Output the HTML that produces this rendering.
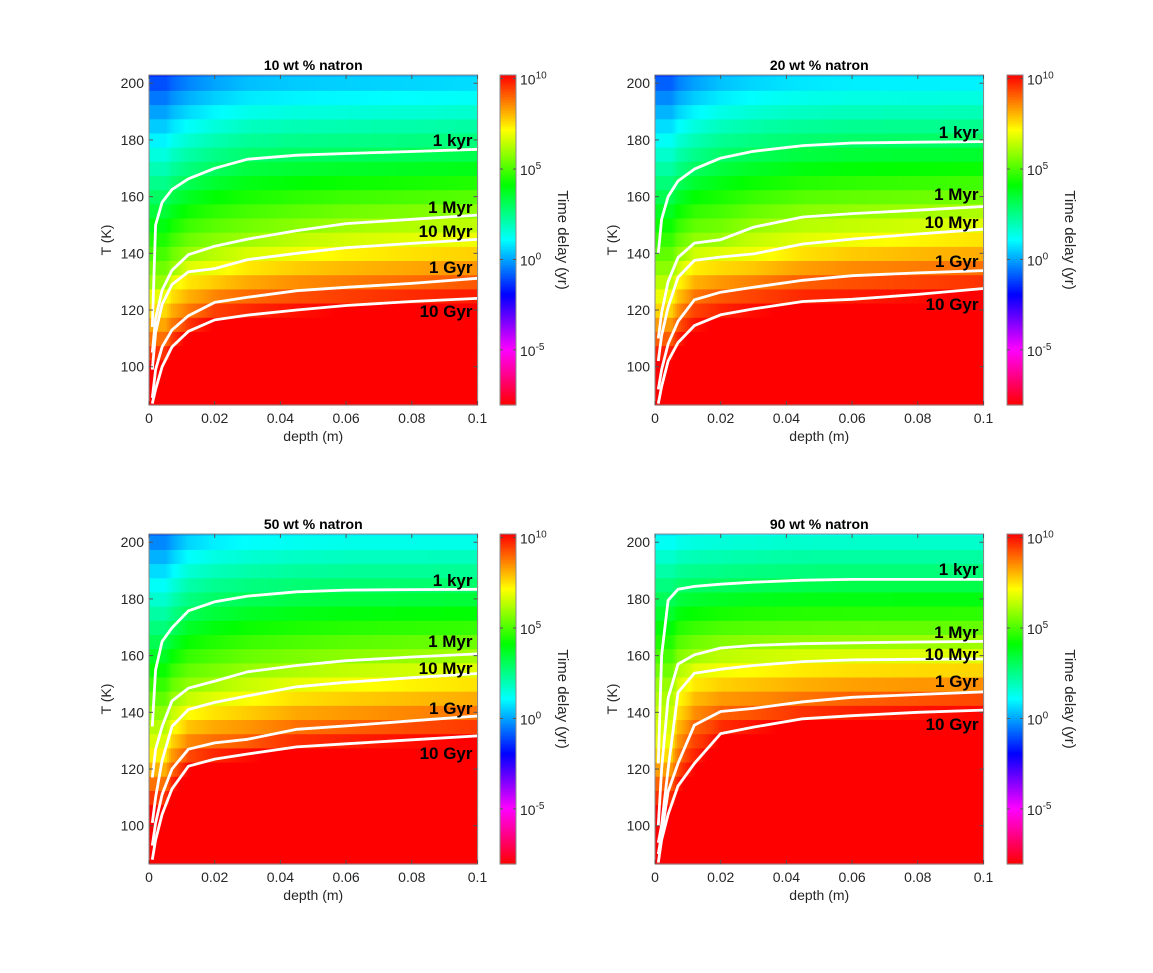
<!DOCTYPE html>
<html><head><meta charset="utf-8">
<style>
body{margin:0;background:#fff;}
svg{display:block;font-family:"Liberation Sans",Arial,sans-serif;}
</style></head>
<body>
<svg id="fig" width="1153" height="973" viewBox="0 0 1153 973" xmlns="http://www.w3.org/2000/svg"></svg>
<script>
// ---- data ----
const depths=[0.001,0.002,0.004,0.007,0.012,0.02,0.03,0.045,0.06,0.08,0.1];
const levelLogs=[3,6,7,9,10];
const levelNames=['1 kyr','1 Myr','10 Myr','1 Gyr','10 Gyr'];
const panelTitles=['10 wt % natron','20 wt % natron','50 wt % natron','90 wt % natron'];
const yTicks=[100,120,140,160,180,200];
const xTicks=[0,0.02,0.04,0.06,0.08,0.1];
const xTickLabels=['0','0.02','0.04','0.06','0.08','0.1'];
const cbTicks=[10,5,0,-5];
// contour temperatures (K) at each depth
const p10_kyr=[114,150,158,162.5,166.3,170,173.2,174.6,175.2,175.9,176.7];
const p10_Myr=[105,117,127,134,139.5,142.5,145,148,150.5,152,153.5];
const p10_10Myr=[99,112,122,129,133.5,134.6,137.8,140,142,143.5,144.9];
const p10_Gyr=[89,99,107,113,118,122.7,124.5,126.8,128,129.4,131.2];
const p10_10Gyr=[87,92,100,107,112.5,116.5,118.2,120,121.6,123,124.1];
const p20_kyr=[140,152,160,165.5,169.7,173.6,176,178,178.9,179.2,179.4];
const p20_Myr=[110,119,130,138.5,143.6,144.8,149.2,152.8,154,155.2,156.5];
const p20_10Myr=[102,111,121,131.5,137.5,138.7,139.8,143.3,145,146.8,148.5];
const p20_Gyr=[92,99,108,116,123.6,126.3,128,130.5,132.1,133.1,133.9];
const p20_10Gyr=[87,93,102,108.5,114.5,118.3,120.4,123,123.8,125.5,127.6];
const p50_kyr=[135,155,165,169.8,175.8,179,181,182.5,183.1,183.3,183.4];
const p50_Myr=[117,127,135,144,148.5,151,154.3,156.5,158.2,159.5,160.6];
const p50_10Myr=[101,110,123,135,141,143.5,145.8,149,150.6,152.2,153.7];
const p50_Gyr=[93,101,111,120,127,129.2,130.5,134,135.2,137,138.7];
const p50_10Gyr=[88,95,104,113,121,123.5,125.3,127.8,128.9,130.3,131.7];
const p90_kyr=[122,160,179.5,183.4,184.4,185.2,185.9,186.6,186.9,186.9,186.9];
const p90_Myr=[100,120,145,157,160.3,162.7,163.6,164.2,164.5,164.8,165];
const p90_10Myr=[94,100.2,120,147,153.8,155.2,156.5,157.9,158.5,158.7,158.8];
const p90_Gyr=[90,97,112,122,135.5,140.3,141.4,143.7,145.3,146.3,147.2];
const p90_10Gyr=[87,95,104,114,122,132.5,134.8,137.7,138.8,140,140.8];
const panelContours=[
 [p10_kyr,p10_Myr,p10_10Myr,p10_Gyr,p10_10Gyr],
 [p20_kyr,p20_Myr,p20_10Myr,p20_Gyr,p20_10Gyr],
 [p50_kyr,p50_Myr,p50_10Myr,p50_Gyr,p50_10Gyr],
 [p90_kyr,p90_Myr,p90_10Myr,p90_Gyr,p90_10Gyr]];
// label pixel positions (annotation layout)
const labelY=[[140,207,231,267,311],[132,194,222,261,304],[580,641,668,708,753],[569,632,654,681,724]];

// ---- layout ----
const layout=[{x:149,y:75,cx:500},{x:655,y:75,cx:1007},{x:149,y:534,cx:500},{x:655,y:534,cx:1007}];
const PW=328.5,PH=330,CBW=16;
const TMIN=86.5,TMAX=202.9,DMAX=0.1,CMIN=-8.05,CMAX=10.2;
const NS='http://www.w3.org/2000/svg';
const svg=document.getElementById('fig');
function mk(tag,attrs,parent){const e=document.createElementNS(NS,tag);for(const k in attrs)e.setAttribute(k,attrs[k]);(parent||svg).appendChild(e);return e;}
function hsv(h){h=((h%360)+360)%360;const x=1-Math.abs((h/60)%2-1);let r,g,b;
 if(h<60){r=1;g=x;b=0}else if(h<120){r=x;g=1;b=0}else if(h<180){r=0;g=1;b=x}else if(h<240){r=0;g=x;b=1}else if(h<300){r=x;g=0;b=1}else{r=1;g=0;b=x}
 return 'rgb('+Math.round(r*255)+','+Math.round(g*255)+','+Math.round(b*255)+')';}
function cmap(v){let t=(v-CMIN)/(CMAX-CMIN);t=Math.max(0,Math.min(1,t));return hsv((1-t)*360);}
function interpD(arr,d){if(d<=depths[0])return arr[0];for(let i=1;i<depths.length;i++){if(d<=depths[i]){const f=(d-depths[i-1])/(depths[i]-depths[i-1]);return arr[i-1]+f*(arr[i]-arr[i-1]);}}return arr[arr.length-1];}
function logAt(cont,d,T){
 const Tc=cont.map(a=>interpD(a,d));
 if(T>=Tc[0]){const s=Math.min(0.1,3/Math.max(1e-3,Tc[0]-Tc[1]));return Math.max(-2,3-(T-Tc[0])*s);}
 for(let k=1;k<Tc.length;k++){if(T>=Tc[k]){const f=(Tc[k-1]-T)/Math.max(1e-3,Tc[k-1]-Tc[k]);return levelLogs[k-1]+f*(levelLogs[k]-levelLogs[k-1]);}}
 const s2=1/Math.max(0.5,Tc[3]-Tc[4]);return Math.min(CMAX,10+(Tc[4]-T)*s2);
}
function sup(parent,x,y,base,exp,anchor,name){const t=mk('text',{x:x,y:y,'font-size':14,'text-anchor':anchor||'start',fill:'#262626'},parent);
 
 const a=mk('tspan',{},t);a.textContent=base;const b=mk('tspan',{dy:-6,'font-size':10},t);b.textContent=exp;return t;}

panelTitles.forEach((title,p)=>{
 const L=layout[p];const cont=panelContours[p];
 const g=mk('g',{});
 const xs=d=>L.x+d/DMAX*PW, ys=T=>L.y+(TMAX-T)/(TMAX-TMIN)*PH;
 const hm=mk('g',{},g);
 const ncol=164;
 for(let T=85;T<=205;T+=5){
  const y0=Math.max(L.y,ys(T+2.5)),y1=Math.min(L.y+PH,ys(T-2.5));if(y1<=y0)continue;
  for(let i=0;i<ncol;i++){const d0=i/ncol*DMAX,d1=(i+1)/ncol*DMAX,dc=(d0+d1)/2;
   const v=logAt(cont,Math.max(dc,0.005),T);
   const r=mk('rect',{x:xs(d0).toFixed(2),y:y0.toFixed(2),width:(xs(d1)-xs(d0)+0.6).toFixed(2),height:(y1-y0+0.6).toFixed(2),fill:cmap(v)},hm);
   }
 }
 cont.forEach((arr,k)=>{
  const pts=depths.map((d,i)=>xs(d).toFixed(1)+','+ys(arr[i]).toFixed(1)).join(' ');
  const pl=mk('polyline',{points:pts,fill:'none',stroke:'#fff','stroke-width':2.8,'stroke-linejoin':'round'},g);
  
  const tx=mk('text',{x:L.x+PW-5,y:labelY[p][k]+6,'font-size':17,'font-weight':'bold','text-anchor':'end',fill:'#000'},g);
  tx.textContent=levelNames[k];
 });
 const box=mk('rect',{x:L.x,y:L.y,width:PW,height:PH,fill:'none',stroke:'#8a8a8a','stroke-width':1},g);
 
 yTicks.forEach(v=>{const y=ys(v);
  mk('line',{x1:L.x,x2:L.x+4,y1:y,y2:y,stroke:'#555'},g);mk('line',{x1:L.x+PW,x2:L.x+PW-4,y1:y,y2:y,stroke:'#555'},g);
  const t=mk('text',{x:L.x-5,y:y+5,'font-size':14,'text-anchor':'end',fill:'#262626'},g);t.textContent=v;
  });
 xTicks.forEach((v,i)=>{const x=xs(v);
  mk('line',{x1:x,x2:x,y1:L.y+PH,y2:L.y+PH-4,stroke:'#555'},g);mk('line',{x1:x,x2:x,y1:L.y,y2:L.y+4,stroke:'#555'},g);
  const t=mk('text',{x:x,y:L.y+PH+18,'font-size':14,'text-anchor':'middle',fill:'#262626'},g);t.textContent=xTickLabels[i];
  });
 const tt=mk('text',{x:L.x+PW/2,y:L.y-5,'font-size':14,'font-weight':'bold','text-anchor':'middle',fill:'#000'},g);tt.textContent=title;
 
 const xl=mk('text',{x:L.x+PW/2,y:L.y+PH+36,'font-size':14,'text-anchor':'middle',fill:'#262626'},g);xl.textContent='depth (m)';
 
 const yl=mk('text',{x:0,y:0,'font-size':14,'text-anchor':'middle',fill:'#262626',transform:'translate('+(L.x-38)+','+(L.y+PH/2)+') rotate(-90)'},g);yl.textContent='T (K)';
 
 // colorbar
 const cb=mk('g',{},g);
 const N=165;for(let i=0;i<N;i++){const v=CMAX-(i+0.5)/N*(CMAX-CMIN);
  mk('rect',{x:L.cx,y:(L.y+i*PH/N).toFixed(2),width:CBW,height:(PH/N+0.6).toFixed(2),fill:cmap(v)},cb);}
 mk('rect',{x:L.cx,y:L.y,width:CBW,height:PH,fill:'none',stroke:'#8a8a8a'},cb);
 const cy=v=>L.y+(CMAX-v)/(CMAX-CMIN)*PH;
 cbTicks.forEach(v=>{const y=cy(v);mk('line',{x1:L.cx+CBW-3,x2:L.cx+CBW,y1:y,y2:y,stroke:'#555'},cb);mk('line',{x1:L.cx,x2:L.cx+3,y1:y,y2:y,stroke:'#555'},cb);
  sup(cb,L.cx+CBW+4,y+6,'10',String(v),'start','colorbar-tick-label');});
 const cl=mk('text',{x:0,y:0,'font-size':15,'text-anchor':'middle',fill:'#262626',transform:'translate('+(L.cx+CBW+42)+','+(L.y+PH/2)+') rotate(90)'},cb);cl.textContent='Time delay (yr)';
 
});
</script>
</body></html>
